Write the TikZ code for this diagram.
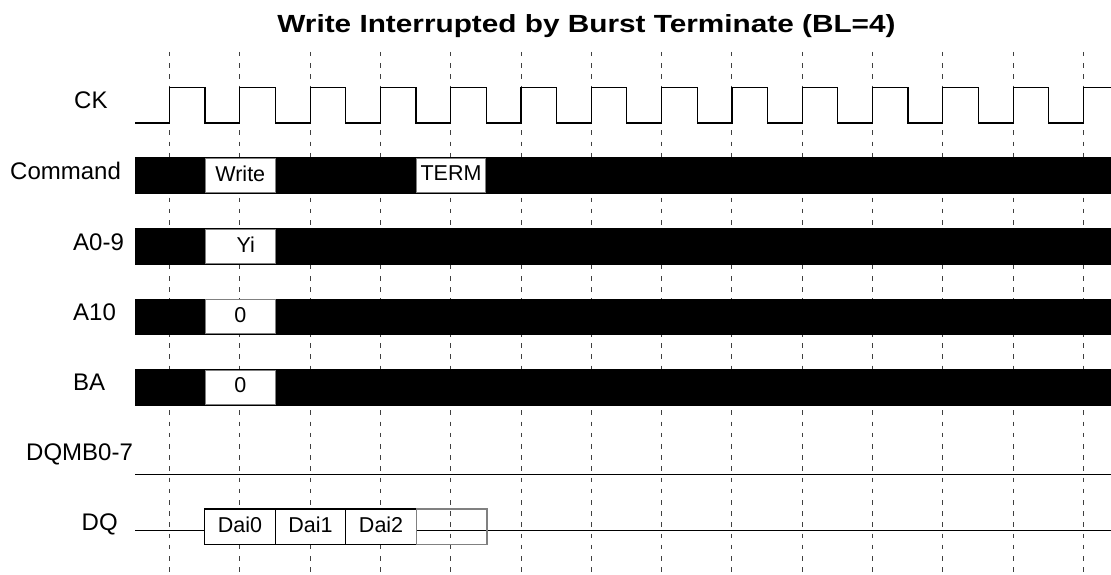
\documentclass[tikz,border=0pt]{standalone}
\usepackage{fontspec}
\setmainfont{Liberation Sans}
\newfontfamily\titlefont[FakeStretch=1.2]{Liberation Sans}
\usepackage{tikz}

\tikzset{
    sig/.style={line width=1.2pt},
    edge/.style={black!75, line width=0.9pt, dash pattern=on 4.5pt off 6.7pt},
    lbl/.style={anchor=base west, inner sep=0pt, font=\fontsize{24}{28}\selectfont},
    val/.style={draw=gray, line width=0.8pt, fill=white, inner sep=0pt, minimum width=69.5pt,
        minimum height=34pt, text depth=4pt, font=\fontsize{21.5}{24}\selectfont},
    dat/.style={val, draw=black, line width=1.2pt, minimum width=70.6pt, minimum height=35.7pt},
}

\begin{document}
\begin{tikzpicture}[x=1pt, y=-1pt]
    \useasboundingbox (0,0) rectangle (1111,575);
    \node[anchor=base, inner sep=0pt, font=\titlefont\fontsize{24.8}{28}\selectfont\bfseries] (title) at (586.5,32.5) {Write Interrupted by Burst Terminate (BL=4)};

    % clock edges
    \foreach \k in {0,...,13}
        \draw[edge] (169.5+70.3*\k,52) -- (169.5+70.3*\k,575);

    % CK
    \draw[sig] (135,123) \foreach \k in {0,...,12} { -- (169.5+70.3*\k,123) -- (169.5+70.3*\k,87.5) -- (205+70.3*\k,87.5) -- (205+70.3*\k,123) }
        -- (1083.4,123) -- (1083.4,87.5) -- (1111,87.5);

    % Command, A0-9, A10, BA
    \foreach \t in {157,228,298.5,369}
        \fill (135,\t) rectangle (1111,\t+36.5);
    \node[val] (write) at (240.3,175.3) {Write};
    \node[val] (term) at (451,175.3) {TERM};
    \node[val] (yi) at (240.3,246.3) {\hspace*{11pt}Yi};
    \node[val] (addr10) at (240.3,316.8) {0};
    \node[val] (bank) at (240.3,387.3) {0};

    % DQMB0-7, DQ
    \draw[sig] (135,474.3) -- (1111,474.3);
    \draw[sig] (135,530.3) -- (204.6,530.3);
    \draw[sig] (416.8,530.3) -- (1111,530.3);
    \node[dat] (dai0) at (239.9,526.9) {Dai0};
    \node[dat] (dai1) at (310.5,526.9) {Dai1};
    \node[dat] (dai2) at (381.1,526.9) {Dai2};
    \node[dat, draw=gray, fill=none] (dai3) at (451.7,526.9) {};

    \node[lbl] (ck) at (74,108.5) {CK};
    \node[lbl] (command) at (10,179) {Command};
    \node[lbl] (a09) at (73,250) {A0-9};
    \node[lbl] (a10) at (73,320) {A10};
    \node[lbl] (ba) at (73,390) {BA};
    \node[lbl] (dqmb) at (26,460.5) {DQMB0-7};
    \node[lbl] (dq) at (81.5,530) {DQ};
\end{tikzpicture}
\end{document}
